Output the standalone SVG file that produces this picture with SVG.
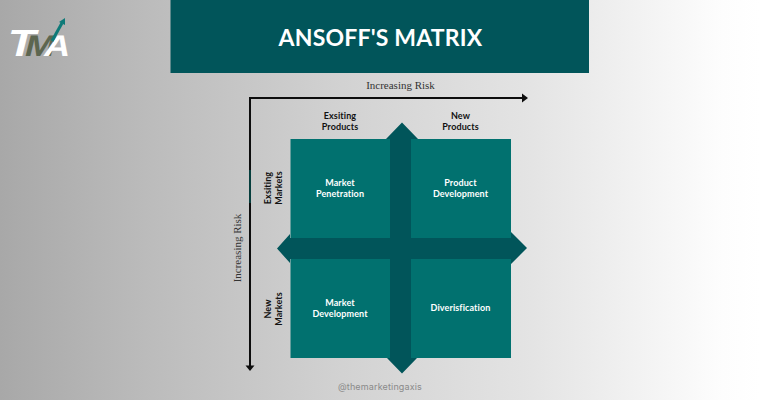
<svg xmlns="http://www.w3.org/2000/svg" width="760" height="400" viewBox="0 0 760 400">
<style>
.band{fill:#01555a}
.cell{fill:#01716f}
.lab{font-family:"Lato","Liberation Sans",sans-serif;font-weight:700;font-size:9px;text-anchor:middle;letter-spacing:.1px}
.in{fill:#fff}
.out{fill:#111}
.risk{font-family:"Liberation Serif",serif;font-size:11px;fill:#333;text-anchor:middle}
.axis{stroke:#0d0d0d;stroke-width:2;fill:none}
</style>
<defs>
<linearGradient id="bg" x1="0" y1="0" x2="1" y2="0">
<stop offset="0" stop-color="#a8a8a8"/>
<stop offset=".2" stop-color="#bcbcbc"/>
<stop offset=".45" stop-color="#d2d2d2"/>
<stop offset=".7" stop-color="#e4e4e4"/>
<stop offset=".95" stop-color="#fdfdfd"/>
<stop offset="1" stop-color="#ffffff"/>
</linearGradient>
</defs>
<rect id="background" width="760" height="400" fill="url(#bg)"/>
<g id="logo">
<text transform="translate(5,56) skewX(-14) scale(1.2,1)" font-family="Liberation Sans,sans-serif" font-weight="700" font-size="38" fill="#fff"><tspan>T</tspan><tspan dx="-8" font-size="30" fill="#5d6650">M</tspan><tspan dx="-9" font-size="30">A</tspan></text>
<path d="M52 41L62 23" stroke="#0e7a78" stroke-width="3" fill="none"/>
<path d="M59 22L65 18L65 25Z" fill="#0e7a78"/>
</g>
<g id="banner">
<rect x="170.500" y="0" width="418.500" height="73" class="band"/>
<text x="380.500" y="46" font-family="Lato,Liberation Sans,sans-serif" font-weight="700" font-size="23" letter-spacing=".2" fill="#fff" text-anchor="middle">ANSOFF'S MATRIX</text>
</g>
<g id="connectors">
<path class="axis" d="M524 98H250V366"/>
<path d="M522 93.500L528 98L522 102.500Z" fill="#0d0d0d"/>
<path d="M245.500 365.500H254.500L250 371Z" fill="#0d0d0d"/>
<path d="M250 170V203" stroke="#01716f" stroke-width="1"/>
</g>
<g id="arrows">
<path class="band" d="M402 122.500L418 139H411V238H511V232L527 248L511 264V259H411V358H417L402 373.500L387 358H390V259H290V263L277 248.500L290 234V238H390V139H386Z"/>
</g>
<g id="market-penetration">
<rect class="cell" x="290.500" y="139" width="99.500" height="99"/>
<text class="lab in" x="340" y="186">Market</text>
<text class="lab in" x="340" y="197">Penetration</text>
</g>
<g id="product-development">
<rect class="cell" x="411" y="139" width="100" height="99"/>
<text class="lab in" x="460.500" y="186">Product</text>
<text class="lab in" x="460.500" y="197">Development</text>
</g>
<g id="market-development">
<rect class="cell" x="290.500" y="259" width="99.500" height="99"/>
<text class="lab in" x="340" y="306">Market</text>
<text class="lab in" x="340" y="317">Development</text>
</g>
<g id="diversification">
<rect class="cell" x="411" y="259" width="100" height="99"/>
<text class="lab in" x="460.500" y="311">Diverisfication</text>
</g>
<g id="column-labels">
<text class="lab out" x="340" y="119">Exsiting</text>
<text class="lab out" x="340" y="130">Products</text>
<text class="lab out" x="460.500" y="119">New</text>
<text class="lab out" x="460.500" y="130">Products</text>
</g>
<g id="row-labels">
<text class="lab out" transform="translate(271,188) rotate(-90)">Exsiting</text>
<text class="lab out" transform="translate(282,188) rotate(-90)">Markets</text>
<text class="lab out" transform="translate(271,309) rotate(-90)">New</text>
<text class="lab out" transform="translate(282,309) rotate(-90)">Markets</text>
</g>
<g id="risk-labels">
<text class="risk" x="400.500" y="89">Increasing Risk</text>
<text class="risk" transform="translate(241,248) rotate(-90)">Increasing Risk</text>
</g>
<text id="handle" x="380" y="390" font-family="Inter,Liberation Sans,sans-serif" font-size="9" letter-spacing=".15" fill="#8a8a8a" text-anchor="middle">@themarketingaxis</text>
</svg>
